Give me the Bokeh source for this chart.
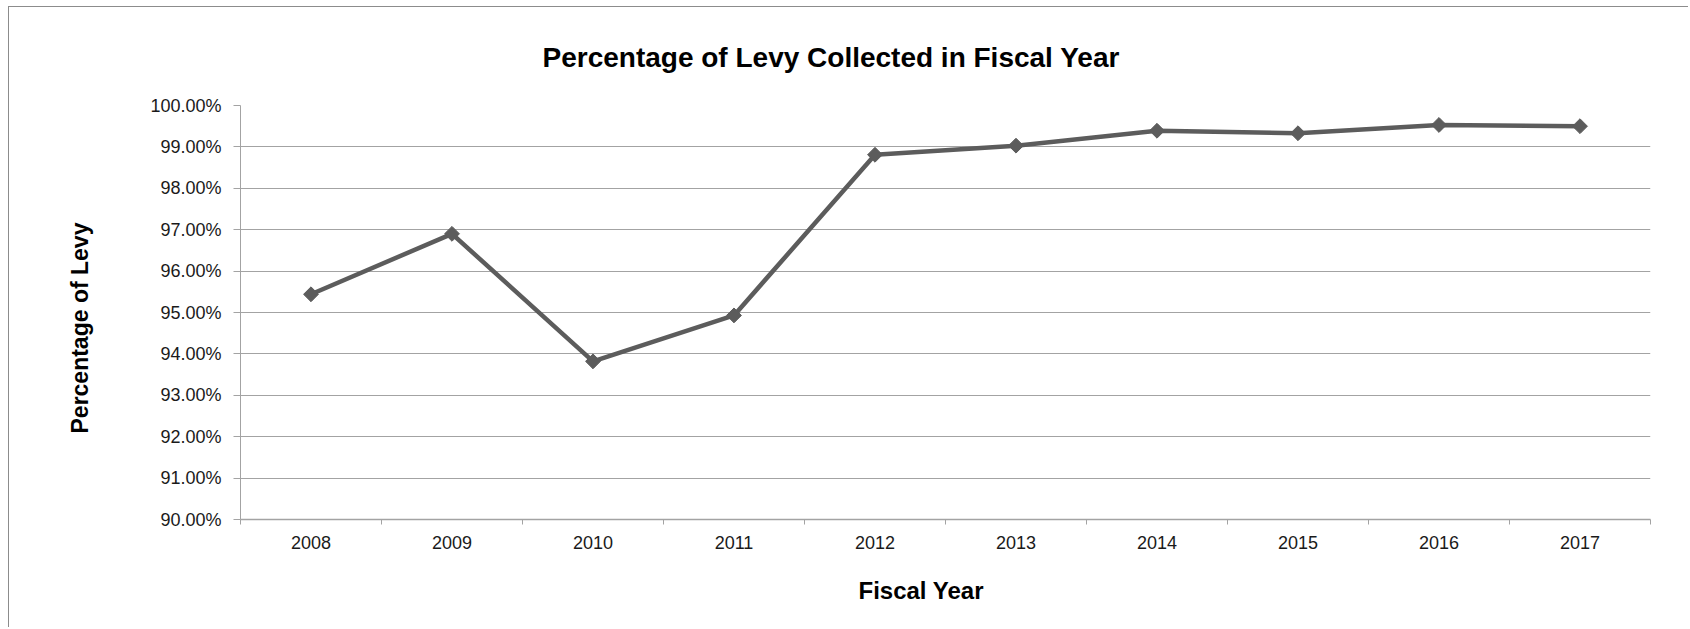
import numpy as np
from bokeh.plotting import figure
from bokeh.models import FixedTicker, PrintfTickFormatter, Range1d, Title
from bokeh.embed import file_html
from bokeh.resources import INLINE

# ---- data ----
years = ["2008", "2009", "2010", "2011", "2012", "2013", "2014", "2015", "2016", "2017"]
pct_collected = [95.44, 96.90, 93.82, 94.93, 98.81, 99.03, 99.39, 99.33, 99.53, 99.50]
y_ticks = [90, 91, 92, 93, 94, 95, 96, 97, 98, 99, 100]
title_text = "Percentage of Levy Collected in Fiscal Year"
x_title = "Fiscal Year"
y_title = "Percentage of Levy"

x_pos = np.arange(1, len(years) + 1)
boundaries = list(np.arange(0.5, len(years) + 1, 1.0))

W, H = 1680, 621
p = figure(width=W, height=H, output_backend="svg", toolbar_location=None,
           x_range=Range1d(0.5, len(years) + 0.5), y_range=Range1d(y_ticks[0], y_ticks[-1]),
           min_border_left=231, min_border_right=39, min_border_top=97, min_border_bottom=109,
           background_fill_color="white", border_fill_color="white",
           title=title_text)
p.margin = (6, 0, 0, 8)
p.outline_line_color = None
p.styles = {"border-left": "1px solid #8c8c8c", "border-top": "1px solid #8c8c8c"}

GRID = "#a3a3a3"
FONT = "Liberation Sans"

p.title.text_font = FONT
p.title.text_font_style = "bold"
p.title.text_font_size = "28px"
p.title.text_color = "black"
p.title.align = "left"
p.title.offset = 302
p.title.standoff = 65

# y axis
p.yaxis.ticker = FixedTicker(ticks=y_ticks)
p.yaxis.formatter = PrintfTickFormatter(format="%.2f%%")
p.yaxis.axis_line_color = GRID
p.yaxis.major_tick_line_color = GRID
p.yaxis.major_tick_out = 7
p.yaxis.major_tick_in = 0
p.yaxis.minor_tick_line_color = None
p.yaxis.major_label_standoff = 12
p.yaxis.major_label_text_font = FONT
p.yaxis.major_label_text_font_size = "18px"
p.yaxis.major_label_text_color = "#1a1a1a"

# x axis: labels at category centres, tick marks between categories
p.xaxis.ticker = FixedTicker(ticks=list(x_pos), minor_ticks=boundaries)
p.xaxis.major_label_overrides = {int(i): y for i, y in zip(x_pos, years)}
p.xaxis.axis_line_color = GRID
p.xaxis.axis_line_width = 1.5
p.xaxis.major_tick_line_color = None
p.xaxis.major_tick_out = 0
p.xaxis.major_tick_in = 0
p.xaxis.minor_tick_line_color = GRID
p.xaxis.minor_tick_out = 5
p.xaxis.minor_tick_in = 0
p.xaxis.major_label_standoff = 11
p.xaxis.major_label_text_font = FONT
p.xaxis.major_label_text_font_size = "18px"
p.xaxis.major_label_text_color = "#1a1a1a"

p.xgrid.grid_line_color = None
p.ygrid.grid_line_color = GRID
p.ygrid.grid_line_width = 1

LINE = "#5c5c5c"
p.line(x_pos, pct_collected, line_color=LINE, line_width=4.5)
p.scatter(x_pos, pct_collected, marker="square", angle=np.pi / 4, size=10.5,
          fill_color=LINE, line_color=LINE)

# axis titles as side titles (allow the original's off-centre placement)
p.add_layout(Title(text=x_title, align="left", offset=618, standoff=47,
                   text_font=FONT, text_font_style="bold", text_font_size="24px",
                   text_color="black"), "below")
p.add_layout(Title(text=y_title, align="left", offset=86, standoff=109,
                   text_font=FONT, text_font_style="bold", text_font_size="23px",
                   text_color="black"), "left")

open("out.html", "w").write(file_html(p, INLINE))
